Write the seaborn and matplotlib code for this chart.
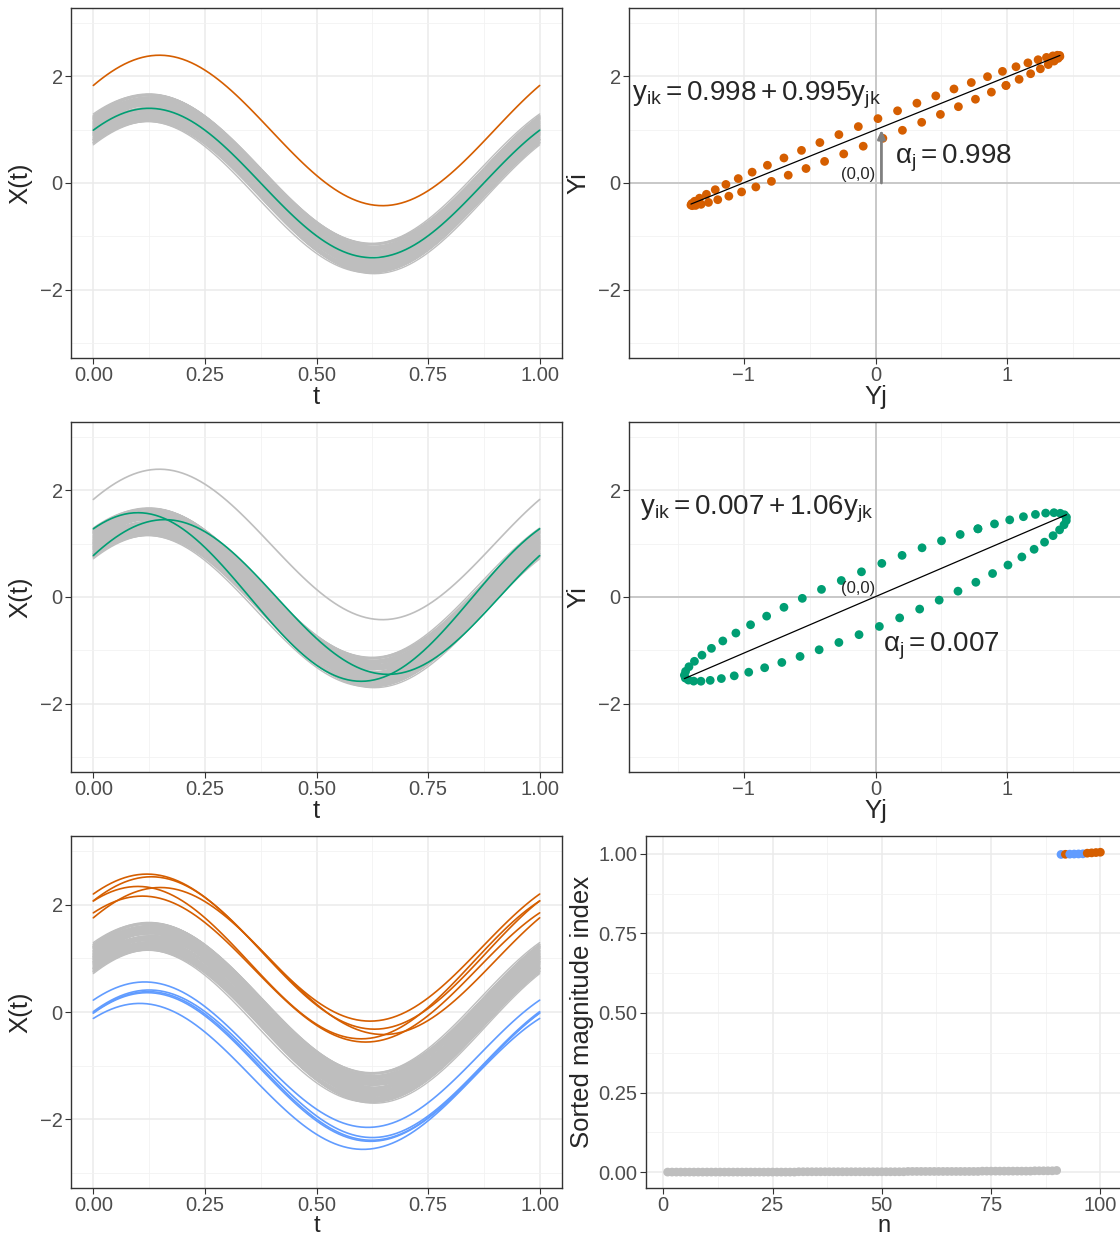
import numpy as np
import pandas as pd
import matplotlib
matplotlib.use('Agg')
import matplotlib.pyplot as plt
import seaborn as sns

sns.set_style('white')
plt.rcParams['font.family'] = ['Liberation Sans', 'DejaVu Sans']
plt.rcParams['mathtext.fontset'] = 'custom'
plt.rcParams['mathtext.rm'] = 'Liberation Sans'
plt.rcParams['mathtext.it'] = 'Liberation Sans'
plt.rcParams['mathtext.bf'] = 'Liberation Sans:bold'

GREY = '#BEBEBE'
ORANGE = '#D55E00'
GREEN = '#009E73'
BLUE = '#619CFF'

# --- curve parameters: offset, amplitude, phase ---
grey_offset = [-0.26, 0.21, -0.05, 0.12, -0.18, 0.03, 0.25, -0.11, 0.08, -0.22,
               0.16, -0.02, 0.19, -0.14, 0.05, -0.24, 0.10, -0.07, 0.23, -0.16,
               0.01, 0.14, -0.20, 0.07, -0.09, 0.18, -0.03, 0.26, -0.12, 0.04,
               -0.19, 0.11, -0.06, 0.22, -0.25, 0.09, -0.01, 0.15, -0.15, 0.06,
               -0.21, 0.13, -0.08, 0.20, 0.00, -0.27, 0.17, -0.04, 0.24, -0.13,
               0.02, -0.17, 0.27, -0.10, 0.11, -0.23, 0.06, -0.01, 0.18, -0.08,
               0.13, -0.26, 0.04, -0.15, 0.21, -0.03, 0.09, -0.20, 0.15, -0.11,
               0.25, -0.06, 0.00, -0.18, 0.12, -0.24, 0.19, -0.09, 0.07, -0.14,
               0.23, -0.02, 0.16, -0.21, 0.03, -0.12, 0.10, -0.25, 0.20, -0.05]
grey_amp = [1.42, 1.40, 1.44, 1.41, 1.43, 1.45, 1.40, 1.42, 1.44, 1.41,
            1.43, 1.40, 1.42, 1.45, 1.41, 1.43, 1.40, 1.44, 1.42, 1.41,
            1.45, 1.43, 1.40, 1.42, 1.44, 1.41, 1.43, 1.40, 1.42, 1.45,
            1.41, 1.43, 1.40, 1.44, 1.42, 1.41, 1.45, 1.43, 1.40, 1.42,
            1.44, 1.41, 1.43, 1.40, 1.42, 1.43, 1.41, 1.44, 1.40, 1.42,
            1.45, 1.42, 1.40, 1.43, 1.41, 1.44, 1.42, 1.40, 1.43, 1.45,
            1.41, 1.42, 1.44, 1.40, 1.43, 1.41, 1.45, 1.42, 1.40, 1.44,
            1.40, 1.43, 1.41, 1.45, 1.42, 1.44, 1.40, 1.43, 1.41, 1.42,
            1.42, 1.44, 1.40, 1.43, 1.45, 1.41, 1.42, 1.40, 1.44, 1.43]
grey_phase = [0.125, 0.118, 0.131, 0.122, 0.128, 0.115, 0.134, 0.120, 0.127, 0.124,
              0.117, 0.132, 0.126, 0.119, 0.130, 0.123, 0.135, 0.116, 0.129, 0.121,
              0.125, 0.133, 0.118, 0.127, 0.122, 0.130, 0.116, 0.124, 0.131, 0.120,
              0.128, 0.117, 0.134, 0.123, 0.126, 0.119, 0.132, 0.121, 0.129, 0.115,
              0.127, 0.124, 0.130, 0.118, 0.125, 0.121, 0.133, 0.119, 0.128, 0.116,
              0.131, 0.122, 0.126, 0.135, 0.117, 0.129, 0.120, 0.132, 0.124, 0.118,
              0.127, 0.134, 0.115, 0.123, 0.130, 0.121, 0.126, 0.119, 0.133, 0.125,
              0.122, 0.128, 0.116, 0.131, 0.120, 0.127, 0.124, 0.134, 0.118, 0.129,
              0.123, 0.117, 0.130, 0.125, 0.121, 0.132, 0.119, 0.128, 0.126, 0.122]

# row 1: reference curve j (green) and shifted-up curve i (orange)
ref1 = (0.0, 1.40, 0.125)
out1 = (0.985, 1.41, 0.102)
coef1 = (0.998, 0.995)
# row 2: two phase-shifted curves (green)
ref2 = (0.0, 1.45, 0.09)
out2 = (0.0, 1.58, 0.15)
coef2 = (0.007, 1.06)

# row 3: magnitude outliers
up_offset = [1.20, 1.10, 0.92, 0.95, 0.80]
up_amp = [1.37, 1.42, 1.42, 1.37, 1.36]
up_phase = [0.13, 0.12, 0.15, 0.10, 0.14]
down_offset = [-0.795, -0.965, -1.005, -1.025, -1.20]
down_amp = [1.355, 1.375, 1.385, 1.385, 1.36]
down_phase = [0.135, 0.125, 0.127, 0.129, 0.146]

# sorted magnitude index
grey_mag = [0.000, 0.000, 0.000, 0.000, 0.000, 0.000, 0.000, 0.000, 0.000, 0.000,
            0.000, 0.000, 0.000, 0.000, 0.000, 0.000, 0.000, 0.000, 0.000, 0.000,
            0.000, 0.000, 0.000, 0.000, 0.000, 0.000, 0.000, 0.000, 0.000, 0.000,
            0.001, 0.001, 0.001, 0.001, 0.001, 0.001, 0.001, 0.001, 0.001, 0.001,
            0.001, 0.001, 0.001, 0.001, 0.001, 0.001, 0.001, 0.001, 0.001, 0.001,
            0.001, 0.001, 0.001, 0.001, 0.001, 0.002, 0.002, 0.002, 0.002, 0.002,
            0.002, 0.002, 0.002, 0.002, 0.002, 0.002, 0.002, 0.002, 0.002, 0.002,
            0.002, 0.002, 0.003, 0.003, 0.003, 0.003, 0.003, 0.003, 0.003, 0.003,
            0.003, 0.003, 0.003, 0.003, 0.004, 0.004, 0.004, 0.004, 0.004, 0.005]
top_rank = [91, 92, 93, 94, 95, 96, 97, 98, 99, 100]
top_mag = [0.998, 0.9985, 0.999, 0.9993, 0.9996, 1.000, 1.002, 1.003, 1.004, 1.005]
top_group = ['low', 'high', 'low', 'low', 'low', 'low', 'high', 'high', 'high', 'high']

t = np.linspace(0, 1, 101)
ts = np.linspace(0, 1, 60)


def curve(p, tt):
    c, a, ph = p
    return c + a * np.sin(2 * np.pi * (tt + ph))


def curves_df(params):
    rows = []
    for k, p in enumerate(params):
        rows.append(pd.DataFrame({'t': t, 'x': curve(p, t), 'id': k}))
    return pd.concat(rows, ignore_index=True)


grey_params = list(zip(grey_offset, grey_amp, grey_phase))
grey_df = curves_df(grey_params)

W, H = 1120, 1236
fig = plt.figure(figsize=(W / 100, H / 100), dpi=100)

TICK = 14.5
TITLE = 18.5


def box(l, top, r, b):
    return fig.add_axes([l / W, 1 - b / H, (r - l) / W, (b - top) / H])


def style(ax, xmaj, xmin, ymaj, ymin, xlim, ylim, xlabels, ylabels):
    ax.set_xlim(*xlim)
    ax.set_ylim(*ylim)
    ax.set_xticks(xmaj)
    ax.set_xticklabels(xlabels)
    ax.set_yticks(ymaj)
    ax.set_yticklabels(ylabels)
    ax.set_xticks(xmin, minor=True)
    ax.set_yticks(ymin, minor=True)
    ax.grid(which='major', color='#EBEBEB', lw=1.1, zorder=0)
    ax.grid(which='minor', color='#F2F2F2', lw=0.6, zorder=0)
    ax.set_axisbelow(True)
    ax.tick_params(which='major', length=4, width=0.8, color='#333333',
                   labelsize=TICK, labelcolor='#4D4D4D', pad=2,
                   bottom=True, left=True)
    ax.tick_params(which='minor', length=0)
    for s in ax.spines.values():
        s.set_color('#333333')
        s.set_linewidth(1.0)


def line_panel(ax, extra, xsize=TITLE, xpad=0):
    sns.lineplot(data=grey_df, x='t', y='x', units='id', estimator=None,
                 color=GREY, lw=1.0, ax=ax, legend=False)
    for params, col in extra:
        df = curves_df(params)
        sns.lineplot(data=df, x='t', y='x', units='id', estimator=None,
                     color=col, lw=1.2, ax=ax, legend=False)
    style(ax, [0, 0.25, 0.5, 0.75, 1.0], [0.125, 0.375, 0.625, 0.875],
          [-2, 0, 2], [-3, -1, 1, 3], (-0.05, 1.05), (-3.28, 3.28),
          ['0.00', '0.25', '0.50', '0.75', '1.00'], ['\u22122', '0', '2'])
    ax.set_xlabel('t', fontsize=xsize, labelpad=xpad)
    ax.set_ylabel('X(t)', fontsize=TITLE, labelpad=5)


def scatter_panel(ax, pj, pi, coef, col, eq, alpha_txt, alpha_pos, arrow):
    yj = curve(pj, ts)
    yi = curve(pi, ts)
    ax.axhline(0, color='#C8C8C8', lw=1.4, zorder=1)
    ax.axvline(0, color='#C8C8C8', lw=1.4, zorder=1)
    sns.scatterplot(x=yj, y=yi, color=col, s=40, edgecolor='none', ax=ax,
                    zorder=3)
    x0, x1 = yj.min(), yj.max()
    ax.plot([x0, x1], [coef[0] + coef[1] * x0, coef[0] + coef[1] * x1],
            color='black', lw=0.9, zorder=4)
    if arrow:
        ax.annotate('', xy=(0.045, coef[0]), xytext=(0.045, 0),
                    arrowprops=dict(arrowstyle='-|>,head_length=0.5,head_width=0.22',
                                    color='#808080', lw=2.0, shrinkA=0, shrinkB=0),
                    zorder=5)
    ax.text(0.0, 0.15, '(0,0)', fontsize=12, ha='right', va='center', zorder=6)
    ax.text(-0.9, 1.65, eq, fontsize=20, ha='center', va='center', zorder=6)
    ax.text(alpha_pos[0], alpha_pos[1], alpha_txt, fontsize=20, ha='center',
            va='center', zorder=6)
    style(ax, [-1, 0, 1], [-1.5, -0.5, 0.5, 1.5], [-2, 0, 2], [-3, -1, 1, 3],
          (-1.87, 1.87), (-3.28, 3.28), ['\u22121', '0', '1'], ['\u22122', '0', '2'])
    ax.set_xlabel('Yj', fontsize=TITLE, labelpad=0)
    ax.set_ylabel('Yi', fontsize=TITLE, labelpad=5)


# row 1
ax = box(71, 8, 562, 358)
line_panel(ax, [([out1], ORANGE), ([ref1], GREEN)])
ax = box(629, 8, 1122, 358)
scatter_panel(ax, ref1, out1, coef1, ORANGE,
              r'$\mathregular{y_{ik} = 0.998 + 0.995y_{jk}}$',
              r'$\mathregular{\alpha_j = 0.998}$', (0.59, 0.47), True)

# row 2
ax = box(71, 422, 562, 772)
line_panel(ax, [([out1], GREY), ([ref2, out2], GREEN)])
ax = box(629, 422, 1122, 772)
scatter_panel(ax, ref2, out2, coef2, GREEN,
              r'$\mathregular{y_{ik} = 0.007 + 1.06y_{jk}}$',
              r'$\mathregular{\alpha_j = 0.007}$', (0.5, -0.92), False)

# row 3
ax = box(71, 836, 562, 1188)
line_panel(ax, [(list(zip(up_offset, up_amp, up_phase)), ORANGE),
                (list(zip(down_offset, down_amp, down_phase)), BLUE)],
           xsize=17, xpad=0)

ax = box(646, 836, 1122, 1188)
mag_df = pd.DataFrame({'n': list(range(1, 91)) + top_rank,
                       'm': grey_mag + top_mag,
                       'g': ['none'] * 90 + top_group})
sns.scatterplot(data=mag_df, x='n', y='m', hue='g',
                palette={'none': GREY, 'low': BLUE, 'high': ORANGE},
                s=40, edgecolor='none', ax=ax, legend=False, zorder=3)
style(ax, [0, 25, 50, 75, 100], [12.5, 37.5, 62.5, 87.5],
      [0, 0.25, 0.5, 0.75, 1.0], [0.125, 0.375, 0.625, 0.875],
      (-3.95, 104.95), (-0.05, 1.056), ['0', '25', '50', '75', '100'],
      ['0.00', '0.25', '0.50', '0.75', '1.00'])
ax.set_xlabel('n', fontsize=17, labelpad=0)
ax.set_ylabel('Sorted magnitude index', fontsize=TITLE, labelpad=3)

fig.savefig('out.png', dpi=100)
